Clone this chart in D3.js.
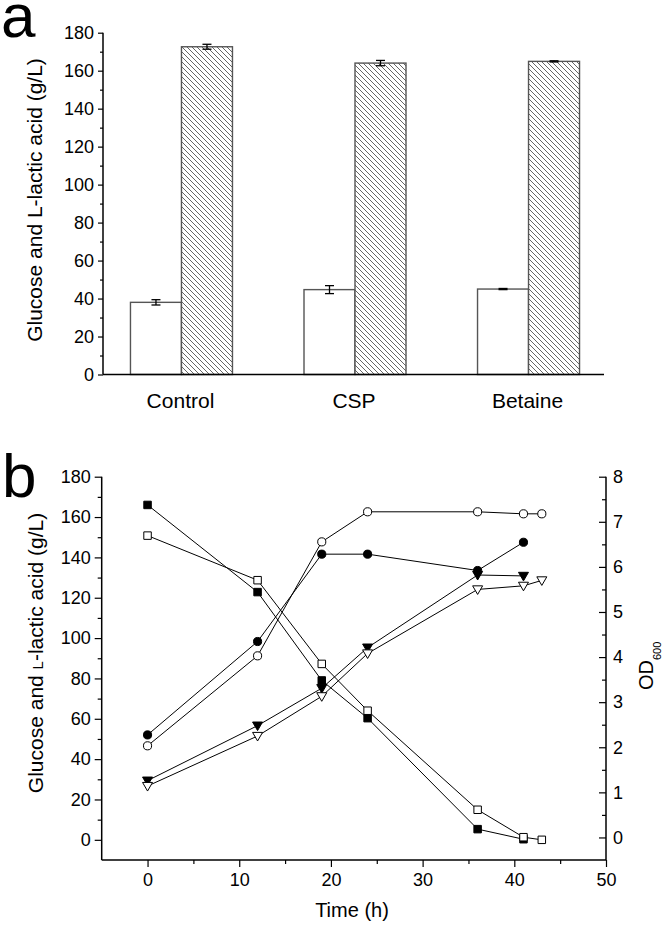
<!DOCTYPE html>
<html><head><meta charset="utf-8">
<script src="https://cdn.jsdelivr.net/npm/d3@7"></script>
<style>
body{margin:0;background:#fff}
text{font-family:"Liberation Sans",Arial,sans-serif;fill:#000}
</style>
</head><body>
<svg id="c" width="664" height="925"></svg>
<script>
// ---------- Panel a data ----------
const categories = ["Control", "CSP", "Betaine"];
const residualGlucose = [38.0, 44.7, 45.0];
const residualGlucoseErr = [1.4, 2.1, 0.3];
const lacticAcid = [172.6, 164.0, 164.9];
const lacticAcidErr = [1.3, 1.4, 0.3];
const yTicksA = [0, 20, 40, 60, 80, 100, 120, 140, 160, 180];
const yMinorA = [10, 30, 50, 70, 90, 110, 130, 150, 170];

// ---------- Panel b data ----------
const timeShort = [0, 12, 19, 24, 36, 41];
const timeLong = [0, 12, 19, 24, 36, 41, 43];
const glucoseFilled = [166, 122.8, 79, 60.3, 5.3, 0.3];      // filled squares (t: timeShort)
const glucoseOpen = [150.8, 128.7, 87.2, 64, 14.9, 1.3, 0];   // open squares (t: timeLong)
const lacticFilled = [52, 98.3, 141.6, 141.6, 133.5, 147.5];  // filled circles (t: timeShort)
const lacticOpen = [46.6, 91.2, 147.7, 162.6, 162.6, 161.6, 161.6]; // open circles (t: timeLong)
const odFilled = [1.26, 2.48, 3.31, 4.21, 5.82, 5.80];        // filled down-triangles (t: timeShort)
const odOpen = [1.14, 2.25, 3.13, 4.08, 5.50, 5.58, 5.70];    // open down-triangles (t: timeLong)
const xTicksB = [0, 10, 20, 30, 40, 50];
const xMinorB = [5, 15, 25, 35, 45];
const yTicksB = [0, 20, 40, 60, 80, 100, 120, 140, 160, 180];
const yMinorB = [10, 30, 50, 70, 90, 110, 130, 150, 170];
const y2TicksB = [0, 1, 2, 3, 4, 5, 6, 7, 8];
const y2MinorB = [0.5, 1.5, 2.5, 3.5, 4.5, 5.5, 6.5, 7.5];

const svg = d3.select("#c");
svg.append("rect").attr("width", 664).attr("height", 925).attr("fill", "#fff");

// hatch pattern
const defs = svg.append("defs");
const pat = defs.append("pattern").attr("id", "hatch").attr("patternUnits", "userSpaceOnUse")
  .attr("width", 5).attr("height", 5);
pat.append("rect").attr("width", 5).attr("height", 5).attr("fill", "#fff");
pat.append("path").attr("d", "M0,0L5,5M-1,4L1,6M4,-1L6,1")
  .attr("stroke", "#555").attr("stroke-width", 0.9);

// ================= PANEL A =================
const ax0 = 103, ax1 = 604, ay0 = 374.5, ay1 = 32.7;
const xA = d3.scaleBand().domain(categories).range([124, 586]).paddingInner(0.3377).paddingOuter(0);
const yA = d3.scaleLinear().domain([0, 180]).range([ay0, ay1]);
const bw = 51;
const centerA = c => xA(c) + xA.bandwidth() / 2;

const gA = svg.append("g");
// bars
categories.forEach((c, i) => {
  const cx = centerA(c);
  gA.append("rect").attr("x", cx - bw).attr("y", yA(residualGlucose[i]))
    .attr("width", bw).attr("height", yA(0) - yA(residualGlucose[i]))
    .attr("fill", "#fff").attr("stroke", "#555").attr("stroke-width", 1.4);
  gA.append("rect").attr("x", cx).attr("y", yA(lacticAcid[i]))
    .attr("width", bw).attr("height", yA(0) - yA(lacticAcid[i]))
    .attr("fill", "url(#hatch)").attr("stroke", "#555").attr("stroke-width", 1.4);
});
// error bars
function errBar(g, x, v, e) {
  const cap = 4.5;
  g.append("line").attr("x1", x).attr("x2", x).attr("y1", yA(v + e)).attr("y2", yA(v - e))
    .attr("stroke", "#000").attr("stroke-width", 1.3);
  [v + e, v - e].forEach(w => g.append("line").attr("x1", x - cap).attr("x2", x + cap)
    .attr("y1", yA(w)).attr("y2", yA(w)).attr("stroke", "#000").attr("stroke-width", 1.3));
}
categories.forEach((c, i) => {
  const cx = centerA(c);
  errBar(gA, cx - bw / 2, residualGlucose[i], residualGlucoseErr[i]);
  errBar(gA, cx + bw / 2, lacticAcid[i], lacticAcidErr[i]);
});
// axes
gA.append("line").attr("x1", ax0).attr("x2", ax1).attr("y1", ay0).attr("y2", ay0)
  .attr("stroke", "#000").attr("stroke-width", 1.5);
const yAxisA = gA.append("g").attr("transform", `translate(${ax0},0)`)
  .call(d3.axisLeft(yA).tickValues(yTicksA).tickSize(5).tickPadding(4).tickFormat(d3.format("d")));
gA.append("g").attr("transform", `translate(${ax0},0)`)
  .call(d3.axisLeft(yA).tickValues(yMinorA).tickSize(3).tickFormat(""))
  .select(".domain").remove();
yAxisA.select(".domain").attr("d", `M0,${ay0}V${ay1}`).attr("stroke", "#000").attr("stroke-width", 1.5);
gA.selectAll(".tick line").attr("stroke", "#000").attr("stroke-width", 1.2);
yAxisA.selectAll(".tick text").attr("font-size", 18).attr("font-family", '"Liberation Sans",Arial,sans-serif').attr("fill", "#000");
// category labels
categories.forEach(c => {
  gA.append("text").attr("x", centerA(c) - 1).attr("y", 408).attr("text-anchor", "middle")
    .attr("font-size", 21).text(c);
});
// y title
gA.append("text").attr("transform", "translate(42,200) rotate(-90)").attr("text-anchor", "middle")
  .attr("font-size", 21).text("Glucose and L-lactic acid (g/L)");
// panel letter
svg.append("text").attr("x", 1).attr("y", 37).attr("font-size", 62).text("a");

// ================= PANEL B =================
const bx0 = 101.7, bx1 = 606, by0 = 860, by1 = 476.7;
const xB = d3.scaleLinear().domain([-5, 50]).range([bx0, bx1]);
const yB = d3.scaleLinear().domain([-10, 180]).range([by0, by1]);
const yB2 = d3.scaleLinear().domain([-0.5, 8]).range([by0, by1]);
const gB = svg.append("g");

// axes
const xAxisB = gB.append("g").attr("transform", `translate(0,${by0})`)
  .call(d3.axisBottom(xB).tickValues(xTicksB).tickSize(7).tickPadding(6).tickFormat(d3.format("d")));
gB.append("g").attr("transform", `translate(0,${by0})`)
  .call(d3.axisBottom(xB).tickValues(xMinorB).tickSize(4).tickFormat("")).select(".domain").remove();
const yAxisB = gB.append("g").attr("transform", `translate(${bx0},0)`)
  .call(d3.axisLeft(yB).tickValues(yTicksB).tickSize(7).tickPadding(4).tickFormat(d3.format("d")));
gB.append("g").attr("transform", `translate(${bx0},0)`)
  .call(d3.axisLeft(yB).tickValues(yMinorB).tickSize(4).tickFormat("")).select(".domain").remove();
const y2AxisB = gB.append("g").attr("transform", `translate(${bx1},0)`)
  .call(d3.axisRight(yB2).tickValues(y2TicksB).tickSizeInner(-7).tickSizeOuter(0).tickPadding(14).tickFormat(d3.format("d")));
gB.append("g").attr("transform", `translate(${bx1},0)`)
  .call(d3.axisRight(yB2).tickValues(y2MinorB).tickSizeInner(-4).tickSizeOuter(0).tickFormat("")).select(".domain").remove();
xAxisB.select(".domain").attr("d", `M${bx0},0H${bx1}`);
yAxisB.select(".domain").attr("d", `M0,${by0}V${by1}`);
y2AxisB.select(".domain").attr("d", `M0,${by0}V${by1}`);
gB.selectAll(".domain").attr("stroke", "#000").attr("stroke-width", 1.5);
gB.selectAll(".tick line").attr("stroke", "#000").attr("stroke-width", 1.2);
gB.selectAll(".tick text").attr("font-size", 18).attr("font-family", '"Liberation Sans",Arial,sans-serif').attr("fill", "#000");
y2AxisB.selectAll(".tick text").attr("x", 7);

// series
const series = [
  {t: timeShort, v: glucoseFilled, y: yB, sym: "square", fill: "#000"},
  {t: timeLong, v: glucoseOpen, y: yB, sym: "square", fill: "#fff"},
  {t: timeShort, v: lacticFilled, y: yB, sym: "circle", fill: "#000"},
  {t: timeLong, v: lacticOpen, y: yB, sym: "circle", fill: "#fff"},
  {t: timeShort, v: odFilled, y: yB2, sym: "tri", fill: "#000"},
  {t: timeLong, v: odOpen, y: yB2, sym: "tri", fill: "#fff"}
];
const symPath = {
  square: d3.symbol().type(d3.symbolSquare).size(56)(),
  circle: d3.symbol().type(d3.symbolCircle).size(52)(),
  tri: "M-5,-3.6L5,-3.6L0,5Z"
};
series.forEach(s => {
  const pts = s.t.map((t, i) => [t, s.v[i]]);
  gB.append("path").datum(pts)
    .attr("d", d3.line().x(d => xB(d[0])).y(d => s.y(d[1])))
    .attr("fill", "none").attr("stroke", "#000").attr("stroke-width", 1);
});
series.forEach(s => {
  const pts = s.t.map((t, i) => [t, s.v[i]]);
  gB.selectAll(null).data(pts).enter().append("path")
    .attr("transform", d => `translate(${xB(d[0])},${s.y(d[1])})`)
    .attr("d", symPath[s.sym])
    .attr("fill", s.fill).attr("stroke", "#000").attr("stroke-width", 1);
});

// titles
const yt = gB.append("text").attr("transform", "translate(43,653) rotate(-90)").attr("text-anchor", "middle")
  .attr("font-size", 21);
yt.append("tspan").text("Glucose and ");
yt.append("tspan").attr("font-size", 15).text("L");
yt.append("tspan").text("-lactic acid (g/L)");
const od = gB.append("text").attr("transform", "translate(653,690) rotate(-90)").attr("text-anchor", "start")
  .attr("font-size", 20);
od.append("tspan").text("OD");
od.append("tspan").attr("font-size", 11).attr("dy", 8).text("600");
gB.append("text").attr("x", 352).attr("y", 917).attr("text-anchor", "middle").attr("font-size", 20).text("Time (h)");
svg.append("text").attr("x", 2).attr("y", 497).attr("font-size", 62).text("b");
</script>
</body></html>
